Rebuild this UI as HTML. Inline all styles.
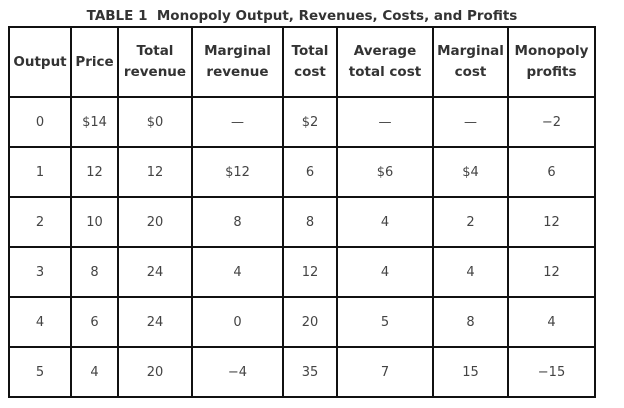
<!DOCTYPE html>
<html><head><meta charset="utf-8"><style>
body{margin:0;width:624px;height:408px;background:#fff;position:relative;overflow:hidden;font-family:"DejaVu Sans","Liberation Sans",sans-serif;}
#title{position:absolute;left:0;width:604px;top:8px;text-align:center;font-weight:bold;font-size:13.5px;color:#333;white-space:nowrap;}
table{position:absolute;left:8px;top:26px;border-collapse:collapse;table-layout:fixed;}
td,th{border:2px solid #111;text-align:center;padding:0;}
th{height:68px;font-size:13.5px;font-weight:bold;color:#333;line-height:21px;vertical-align:middle;}
tr.h{height:70px;}
td{height:48px;font-size:13px;color:#444;}
</style></head><body>
<div id="title">TABLE 1&nbsp; Monopoly Output, Revenues, Costs, and Profits</div>
<table>
<colgroup><col style="width:62px"><col style="width:47px"><col style="width:74px"><col style="width:91px"><col style="width:54px"><col style="width:96px"><col style="width:75px"><col style="width:87px"></colgroup>
<tr class="h">
<th>Output</th>
<th>Price</th>
<th>Total<br>revenue</th>
<th>Marginal<br>revenue</th>
<th>Total<br>cost</th>
<th>Average<br>total cost</th>
<th>Marginal<br>cost</th>
<th>Monopoly<br>profits</th>
</tr>
<tr><td>0</td><td>$14</td><td>$0</td><td>—</td><td>$2</td><td>—</td><td>—</td><td>−2</td></tr>
<tr><td>1</td><td>12</td><td>12</td><td>$12</td><td>6</td><td>$6</td><td>$4</td><td>6</td></tr>
<tr><td>2</td><td>10</td><td>20</td><td>8</td><td>8</td><td>4</td><td>2</td><td>12</td></tr>
<tr><td>3</td><td>8</td><td>24</td><td>4</td><td>12</td><td>4</td><td>4</td><td>12</td></tr>
<tr><td>4</td><td>6</td><td>24</td><td>0</td><td>20</td><td>5</td><td>8</td><td>4</td></tr>
<tr><td>5</td><td>4</td><td>20</td><td>−4</td><td>35</td><td>7</td><td>15</td><td>−15</td></tr>
</table>
</body></html>
